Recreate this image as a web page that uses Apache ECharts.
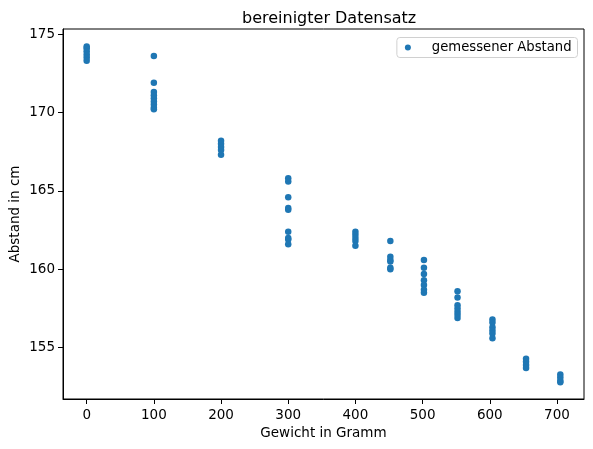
<!DOCTYPE html>
<html>
<head>
<meta charset="utf-8">
<script src="https://cdn.jsdelivr.net/npm/echarts@6/dist/echarts.min.js"></script>
<style>html,body{margin:0;padding:0;background:#fff}#c{width:593px;height:449px}</style>
</head>
<body>
<div id="c"></div>
<script>
const weights = [0, 100, 200, 300, 400, 452, 502, 552, 604, 654, 705];
const d0   = [174.2, 174.1, 173.9, 173.7, 173.5, 173.3];
const d100 = [173.6, 171.9, 171.3, 171.1, 170.9, 170.7, 170.5, 170.3, 170.2];
const d200 = [168.2, 168.0, 167.8, 167.6, 167.3];
const d300 = [165.8, 165.6, 164.6, 163.9, 163.8, 162.4, 162.0, 161.9, 161.6];
const d400 = [162.4, 162.2, 162.0, 161.8, 161.5];
const d450 = [161.8, 160.8, 160.6, 160.5, 160.1, 160.0];
const d500 = [160.6, 160.1, 159.7, 159.3, 159.0, 158.7, 158.5];
const d550 = [158.6, 158.2, 157.7, 157.5, 157.3, 157.1, 156.9];
const d600 = [156.8, 156.6, 156.3, 156.1, 155.9, 155.6];
const d650 = [154.3, 154.1, 153.9, 153.7];
const d700 = [153.3, 153.1, 152.9, 152.8];
const groups = [d0, d100, d200, d300, d400, d450, d500, d550, d600, d650, d700];
const xTicks = [0, 100, 200, 300, 400, 500, 600, 700];
const yTicks = [155, 160, 165, 170, 175];

const points = [];
groups.forEach((g, i) => g.forEach(v => points.push([weights[i], v])));

const font = 'DejaVu Sans';
const chart = echarts.init(document.getElementById('c'));
chart.setOption({
  animation: false,
  title: {
    text: 'bereinigter Datensatz',
    left: 237, top: 6,
    textStyle: {fontFamily: font, fontSize: 16, fontWeight: 'normal', color: '#000'}
  },
  legend: {
    right: 15.5, top: 37.5,
    padding: [3, 6, 3, 8],
    itemWidth: 20, itemHeight: 6,
    icon: 'circle',
    borderColor: '#d0d0d0', borderWidth: 1, borderRadius: 3,
    backgroundColor: 'rgba(255,255,255,0.8)',
    textStyle: {fontFamily: font, fontSize: 13.2, lineHeight: 14, color: '#000', padding: [0, 0, 0, 9]},
    data: ['gemessener Abstand']
  },
  grid: {
    left: 63, right: 9, top: 29, bottom: 50,
    containLabel: false,
    outerBoundsMode: 'none',
    show: true, borderColor: '#000', borderWidth: 1, backgroundColor: 'transparent'
  },
  xAxis: {
    type: 'value', min: -35.25, max: 740.25,
    name: 'Gewicht in Gramm', nameLocation: 'middle', nameGap: 27, nameMoveOverlap: false,
    nameTextStyle: {fontFamily: font, fontSize: 13.5, color: '#000'},
    axisLine: {show: true, onZero: false, lineStyle: {color: '#000', width: 1}},
    axisTick: {show: true, inside: false, length: 5, customValues: xTicks, lineStyle: {color: '#000'}},
    axisLabel: {customValues: xTicks, margin: 9, fontFamily: font, fontSize: 13.5, color: '#000'},
    splitLine: {show: false}
  },
  yAxis: {
    type: 'value', min: 151.73, max: 175.32,
    name: 'Abstand in cm', nameLocation: 'middle', nameGap: 41, nameRotate: 90, nameMoveOverlap: false,
    nameTextStyle: {fontFamily: font, fontSize: 13.5, color: '#000'},
    axisLine: {show: true, onZero: false, lineStyle: {color: '#000', width: 1}},
    axisTick: {show: true, inside: false, length: 5, customValues: yTicks, lineStyle: {color: '#000'}},
    axisLabel: {customValues: yTicks, margin: 8, fontFamily: font, fontSize: 13.5, color: '#000'},
    splitLine: {show: false}
  },
  series: [{
    name: 'gemessener Abstand',
    type: 'scatter',
    symbolSize: 6.5,
    itemStyle: {color: '#1f77b4', opacity: 1},
    data: points
  }]
});
</script>
</body>
</html>
